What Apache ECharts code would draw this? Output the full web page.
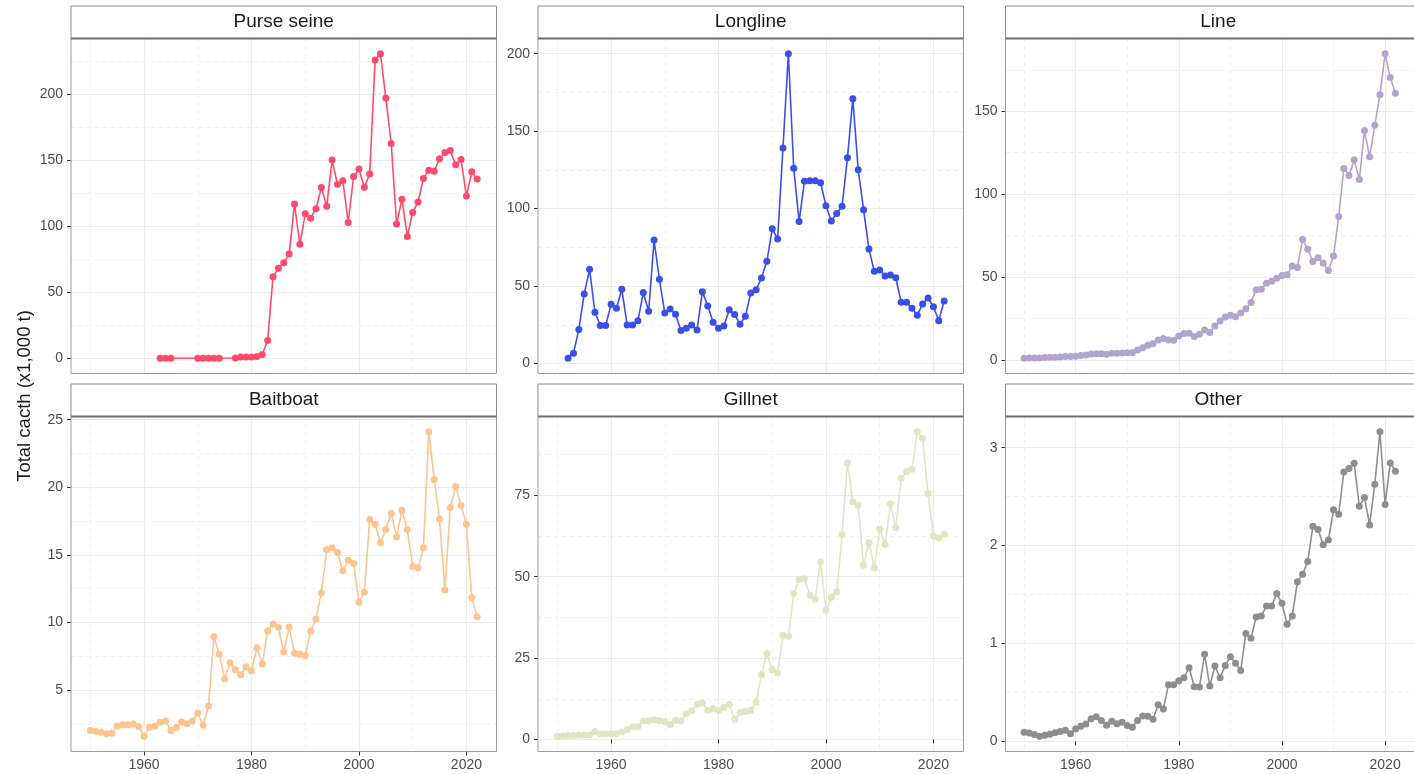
<!DOCTYPE html>
<html>
<head>
<meta charset="utf-8">
<title>Total catch by gear</title>
<script src="https://cdn.jsdelivr.net/npm/echarts@6/dist/echarts.min.js"></script>
<style>
  html, body { margin: 0; padding: 0; background: #fff; }
  #chart { width: 1414px; height: 774px; }
</style>
</head>
<body>
<div id="chart"></div>
<script>
// years on the x axis
const years = [1950, 1951, 1952, 1953, 1954, 1955, 1956, 1957, 1958, 1959,
  1960, 1961, 1962, 1963, 1964, 1965, 1966, 1967, 1968, 1969,
  1970, 1971, 1972, 1973, 1974, 1975, 1976, 1977, 1978, 1979,
  1980, 1981, 1982, 1983, 1984, 1985, 1986, 1987, 1988, 1989,
  1990, 1991, 1992, 1993, 1994, 1995, 1996, 1997, 1998, 1999,
  2000, 2001, 2002, 2003, 2004, 2005, 2006, 2007, 2008, 2009,
  2010, 2011, 2012, 2013, 2014, 2015, 2016, 2017, 2018, 2019,
  2020, 2021, 2022];
const purseYears = [1963, 1964, 1965, 1970, 1971, 1972, 1973, 1974,
  1977, 1978, 1979, 1980, 1981, 1982, 1983, 1984, 1985, 1986, 1987, 1988, 1989,
  1990, 1991, 1992, 1993, 1994, 1995, 1996, 1997, 1998, 1999,
  2000, 2001, 2002, 2003, 2004, 2005, 2006, 2007, 2008, 2009,
  2010, 2011, 2012, 2013, 2014, 2015, 2016, 2017, 2018, 2019,
  2020, 2021, 2022];
const longlineYears = years.slice(2); // 1952 onwards

// catch, x1,000 t
const purseSeine = [0, 0, 0, 0, 0, 0, 0, 0,
  0.2, 0.9, 1.0, 1.0, 1.3, 2.8, 13.4, 61.9, 68.2, 72.5, 79.0, 117.0, 86.4,
  109.6, 106.3, 113.4, 129.5, 115.4, 150.3, 132.0, 134.6, 103.0, 137.9,
  143.5, 129.8, 139.7, 226.3, 231.0, 197.5, 162.9, 101.8, 120.7, 92.4,
  110.6, 118.5, 136.4, 142.7, 141.9, 151.3, 156.0, 157.6, 146.7, 150.8,
  123.0, 141.4, 135.9];
const longline = [3.4, 6.7, 21.9, 44.9, 60.8, 33.1, 24.5, 24.5,
  38.2, 35.7, 47.9, 24.9, 24.9, 27.7, 45.8, 33.7, 79.7, 54.4,
  32.7, 35.2, 31.8, 21.3, 22.8, 24.9, 21.7, 46.4, 37.2, 26.6,
  22.8, 24.3, 34.8, 31.6, 25.4, 30.5, 45.6, 47.7, 55.2, 66.0,
  87.0, 80.4, 139.2, 200.0, 126.1, 91.7, 117.7, 118.0, 118.0, 116.7,
  101.8, 92.0, 96.9, 101.6, 132.8, 171.0, 125.1, 99.3, 73.9, 59.5,
  60.4, 56.5, 57.2, 55.4, 39.5, 39.5, 35.7, 31.2, 38.5, 42.3,
  36.7, 27.7, 40.4];
const line = [1.0, 1.2, 1.2, 1.2, 1.4, 1.6, 1.6, 1.8, 2.0, 2.0,
  2.2, 2.6, 3.0, 3.6, 3.8, 3.8, 3.4, 4.0, 4.0, 4.2,
  4.4, 4.4, 6.0, 7.4, 8.8, 9.8, 12.0, 12.9, 12.0, 11.8,
  14.5, 15.9, 16.1, 14.1, 15.5, 18.1, 16.5, 20.5, 23.5, 25.9,
  26.9, 26.1, 28.3, 30.9, 34.7, 42.4, 42.6, 46.2, 47.4, 49.2,
  51.0, 51.4, 56.6, 55.8, 72.7, 66.7, 59.4, 61.6, 58.4, 54.0,
  62.7, 86.5, 115.5, 111.2, 120.7, 108.8, 138.4, 122.5, 141.6, 160.0,
  184.7, 170.3, 160.8];
const baitboat = [2.0, 1.95, 1.87, 1.77, 1.8, 2.34, 2.44, 2.42, 2.49, 2.29,
  1.58, 2.24, 2.32, 2.61, 2.71, 2.0, 2.22, 2.64, 2.51, 2.71,
  3.3, 2.39, 3.82, 8.94, 7.64, 5.81, 7.02, 6.5, 6.13, 6.72,
  6.43, 8.13, 6.92, 9.36, 9.88, 9.63, 7.81, 9.66, 7.73, 7.66,
  7.54, 9.36, 10.25, 12.17, 15.37, 15.52, 15.17, 13.82, 14.6, 14.36,
  11.5, 12.24, 17.61, 17.27, 15.89, 16.87, 18.08, 16.33, 18.3, 16.87,
  14.14, 14.04, 15.52, 24.11, 20.57, 17.66, 12.41, 18.5, 20.05, 18.65,
  17.27, 11.82, 10.42];
const gillnet = [1.0, 1.1, 1.2, 1.2, 1.3, 1.4, 1.4, 2.5, 1.7, 1.7,
  1.8, 1.8, 2.3, 3.1, 3.9, 4.0, 5.7, 5.8, 6.0, 5.8,
  5.5, 4.6, 5.9, 5.7, 7.9, 8.8, 10.8, 11.2, 8.9, 9.5,
  8.9, 9.8, 10.8, 6.2, 8.3, 8.6, 8.9, 11.6, 20.0, 26.3,
  21.5, 20.4, 32.0, 31.7, 44.8, 49.1, 49.4, 44.3, 43.1, 54.6,
  39.7, 43.7, 45.4, 62.9, 85.0, 73.0, 71.9, 53.5, 60.4, 52.7,
  64.6, 59.9, 72.4, 65.0, 80.2, 82.2, 83.0, 94.5, 92.4, 75.5,
  62.5, 61.9, 63.0];
const other = [0.092, 0.085, 0.068, 0.051, 0.061, 0.071, 0.088, 0.099, 0.112, 0.078,
  0.126, 0.153, 0.177, 0.231, 0.251, 0.211, 0.163, 0.204, 0.180, 0.194,
  0.160, 0.143, 0.211, 0.258, 0.255, 0.224, 0.374, 0.330, 0.578, 0.578,
  0.618, 0.649, 0.751, 0.557, 0.554, 0.890, 0.564, 0.768, 0.649, 0.775,
  0.863, 0.798, 0.724, 1.101, 1.053, 1.271, 1.281, 1.383, 1.383, 1.509,
  1.410, 1.196, 1.281, 1.631, 1.706, 1.838, 2.198, 2.164, 2.008, 2.056,
  2.365, 2.321, 2.752, 2.786, 2.841, 2.402, 2.491, 2.209, 2.627, 3.163,
  2.419, 2.844, 2.759];

const gears = ['Purse seine', 'Longline', 'Line', 'Baitboat', 'Gillnet', 'Other'];
const gearYears = [purseYears, longlineYears, years, years, years, years];
const gearCatch = [purseSeine, longline, line, baitboat, gillnet, other];
const yBreaks = [50, 50, 50, 5, 25, 1];
const xBreak = 20;
const yTitle = 'Total cacth (x1,000 t)';

const gearColors = ['#ff4a6c', '#3a4ee8', '#b4a3cd', '#fdc48f', '#dde7c3', '#8e8e8e'];

// facet layout (px)
const colLeft = [71, 538, 1005.5];
const rowTop = [38.5, 416.5];
const panelW = 425.5;
const panelH = 335;
const stripH = 32.5;
const font = '"Liberation Sans", Arial, sans-serif';

// ggplot-like 5% expansion
function expand(lo, hi) {
  const pad = (hi - lo) * 0.05;
  return [lo - pad, hi + pad];
}
const [xMin, xMax] = expand(years[0], years[years.length - 1]);
const plainNum = v => String(+v.toFixed(6));

const chart = echarts.init(document.getElementById('chart'), null, { renderer: 'canvas' });

const grid = [], xAxis = [], yAxis = [], series = [], graphic = [];

gears.forEach((name, i) => {
  const col = i % 3, row = Math.floor(i / 3);
  const left = colLeft[col], top = rowTop[row];
  const vals = gearCatch[i];
  const [yMin, yMax] = expand(Math.min(...vals), Math.max(...vals));
  const step = yBreaks[i];

  grid.push({ left, top, width: panelW, height: panelH, show: true,
    backgroundColor: '#fff', borderWidth: 0 });

  const hiddenBits = {
    axisLine: { show: false },
    axisTick: { show: false },
    axisLabel: { show: false }
  };

  // major x
  xAxis.push({
    type: 'value', gridIndex: i, min: xMin, max: xMax,
    minInterval: xBreak, maxInterval: xBreak, z: 1,
    axisLine: { show: false },
    axisTick: { show: row === 1, length: 4, lineStyle: { color: '#333', width: 1 } },
    axisLabel: { show: row === 1, showMinLabel: false, showMaxLabel: false,
      formatter: plainNum,
      margin: 7, fontSize: 14, color: '#4d4d4d', fontFamily: font },
    splitLine: { show: true, showMinLine: false, showMaxLine: false,
      lineStyle: { color: '#ebebeb', width: 1.2 } }
  });
  // minor x
  xAxis.push(Object.assign({
    type: 'value', gridIndex: i, min: xMin, max: xMax,
    minInterval: xBreak / 2, maxInterval: xBreak / 2, z: 0,
    splitLine: { show: true, showMinLine: false, showMaxLine: false,
      lineStyle: { color: '#ebebeb', width: 0.8, type: [4, 4] } }
  }, hiddenBits));

  // major y
  yAxis.push({
    type: 'value', gridIndex: i, min: yMin, max: yMax,
    minInterval: step, maxInterval: step, z: 1,
    axisLine: { show: false },
    axisTick: { show: true, length: 4, lineStyle: { color: '#333', width: 1 } },
    axisLabel: { showMinLabel: false, showMaxLabel: false, margin: 8,
      formatter: plainNum,
      fontSize: 14, color: '#4d4d4d', fontFamily: font },
    splitLine: { show: true, showMinLine: false, showMaxLine: false,
      lineStyle: { color: '#ebebeb', width: 1.2 } }
  });
  // minor y
  yAxis.push(Object.assign({
    type: 'value', gridIndex: i, min: yMin, max: yMax,
    minInterval: step / 2, maxInterval: step / 2, z: 0,
    splitLine: { show: true, showMinLine: false, showMaxLine: false,
      lineStyle: { color: '#ebebeb', width: 0.8, type: [4, 4] } }
  }, hiddenBits));

  series.push({
    name, type: 'line', xAxisIndex: 2 * i, yAxisIndex: 2 * i,
    data: gearYears[i].map((yr, k) => [yr, vals[k]]),
    symbol: 'circle', symbolSize: 7, showSymbol: true,
    lineStyle: { color: gearColors[i], width: 1.6 },
    itemStyle: { color: gearColors[i] },
    z: 3, animation: false
  });

  // panel border
  graphic.push({
    type: 'rect', z: 100, silent: true,
    shape: { x: left, y: top, width: panelW, height: panelH },
    style: { fill: 'none', stroke: '#9a9a9a', lineWidth: 1 }
  });
  // strip
  graphic.push({
    type: 'rect', z: 100, silent: true,
    shape: { x: left, y: top - stripH, width: panelW, height: stripH },
    style: { fill: '#fff', stroke: '#8c8c8c', lineWidth: 1 }
  });
  graphic.push({
    type: 'line', z: 101, silent: true,
    shape: { x1: left, y1: top, x2: left + panelW, y2: top },
    style: { stroke: '#6e6e6e', lineWidth: 2 }
  });
  graphic.push({
    type: 'text', z: 102, silent: true,
    x: left + panelW / 2, y: top - stripH / 2,
    style: { text: name, fill: '#1a1a1a', font: '19px ' + font,
      align: 'center', verticalAlign: 'middle' }
  });
});

graphic.push({
  type: 'text', z: 102, silent: true,
  x: 24.5, y: 396, rotation: Math.PI / 2,
  style: { text: yTitle, fill: '#1a1a1a', font: '18.5px ' + font,
    align: 'center', verticalAlign: 'middle' }
});

chart.setOption({
  animation: false,
  backgroundColor: '#fff',
  grid, xAxis, yAxis, series, graphic
});
</script>
</body>
</html>
